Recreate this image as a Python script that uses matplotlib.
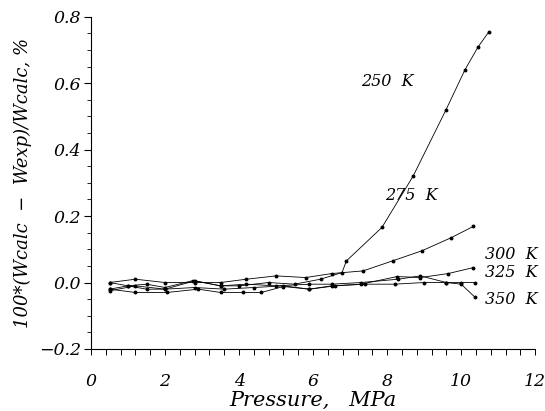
import matplotlib
matplotlib.use("Agg")
import matplotlib.pyplot as plt
from matplotlib.ticker import MultipleLocator

# -------------------------------
# DATA
# -------------------------------
p_250 = [0.5, 1.0, 1.5, 2.0, 2.8, 3.5, 4.0, 4.8, 5.5, 6.2, 6.78, 6.9, 7.86, 8.7, 9.59, 10.1, 10.46, 10.75]
d_250 = [-0.02, -0.01, -0.02, -0.02, 0.005, -0.01, -0.01, 0.0, -0.005, 0.01, 0.03, 0.065, 0.166, 0.32, 0.52, 0.64, 0.71, 0.755]

p_275 = [0.5, 1.2, 2.0, 2.8, 3.5, 4.2, 5.0, 5.8, 6.5, 7.35, 8.17, 8.95, 9.73, 10.33]
d_275 = [0.0, 0.01, 0.0, 0.0, 0.0, 0.01, 0.02, 0.015, 0.027, 0.035, 0.066, 0.096, 0.135, 0.169]

p_300 = [0.5, 1.2, 2.05, 2.9, 3.5, 4.1, 4.6, 5.2, 5.9, 6.5, 7.3, 8.27, 8.9, 9.65, 10.33]
d_300 = [-0.02, -0.03, -0.03, -0.02, -0.03, -0.03, -0.03, -0.012, -0.02, -0.01, -0.005, 0.018, 0.015, 0.027, 0.045]

p_325 = [0.5, 1.0, 1.5, 2.0, 2.76, 3.5, 4.2, 5.0, 5.9, 6.5, 7.3, 8.3, 8.9, 9.6, 10.0, 10.38]
d_325 = [0.0, -0.01, -0.005, -0.015, 0.006, -0.01, -0.005, -0.01, -0.005, -0.005, 0.0, 0.01, 0.02, 0.0, 0.0, 0.0]

p_350 = [0.5, 1.2, 2.0, 2.8, 3.6, 4.4, 5.2, 5.9, 6.6, 7.4, 8.2, 9.0, 9.6, 10.0, 10.38]
d_350 = [-0.025, -0.01, -0.02, -0.015, -0.02, -0.015, -0.01, -0.02, -0.01, -0.005, -0.005, 0.0, 0.0, -0.005, -0.045]

series = [(p_250, d_250), (p_275, d_275), (p_300, d_300), (p_325, d_325), (p_350, d_350)]

labels = ["250  K", "275  K", "300  K", "325  K", "350  K"]
label_x = [7.3, 7.95, 10.65, 10.65, 10.65]
label_y = [0.605, 0.262, 0.085, 0.031, -0.052]

plt.rcParams["font.family"] = "DejaVu Serif"
plt.rcParams["font.style"] = "italic"

fig = plt.figure(figsize=(5.45, 4.11), dpi=100)
ax = fig.add_axes([0.167, 0.151, 0.815, 0.808])

for p, d in series:
    ax.plot(p, d, color="black", lw=0.6, marker="o", ms=1.8)

for t, x, y in zip(labels, label_x, label_y):
    ax.text(x, y, t, fontsize=11.5, va="center", ha="left")

ax.set_xlim(0, 12)
ax.set_ylim(-0.2, 0.8)

ax.xaxis.set_major_locator(MultipleLocator(2))
ax.xaxis.set_minor_locator(MultipleLocator(0.4))
ax.yaxis.set_major_locator(MultipleLocator(0.2))
ax.yaxis.set_minor_locator(MultipleLocator(0.05))
ax.yaxis.set_major_formatter(plt.FuncFormatter(lambda v, _: f"{v:.1f}".replace("-", "\u2212")))

ax.spines["top"].set_visible(False)
ax.spines["right"].set_visible(False)
ax.tick_params(axis="x", which="both", direction="out", length=4, width=0.7, labelsize=12.5, pad=13)
ax.tick_params(axis="y", which="major", direction="out", length=5, width=0.8, labelsize=12.5, pad=2)
ax.tick_params(axis="y", which="minor", direction="out", length=3, width=0.6)

ax.set_xlabel("Pressure,   MPa", fontsize=15, labelpad=1)
ax.set_ylabel("100*(Wcalc  \u2212  Wexp)/Wcalc, %", fontsize=13, labelpad=5)

fig.savefig("out.png", dpi=100)
